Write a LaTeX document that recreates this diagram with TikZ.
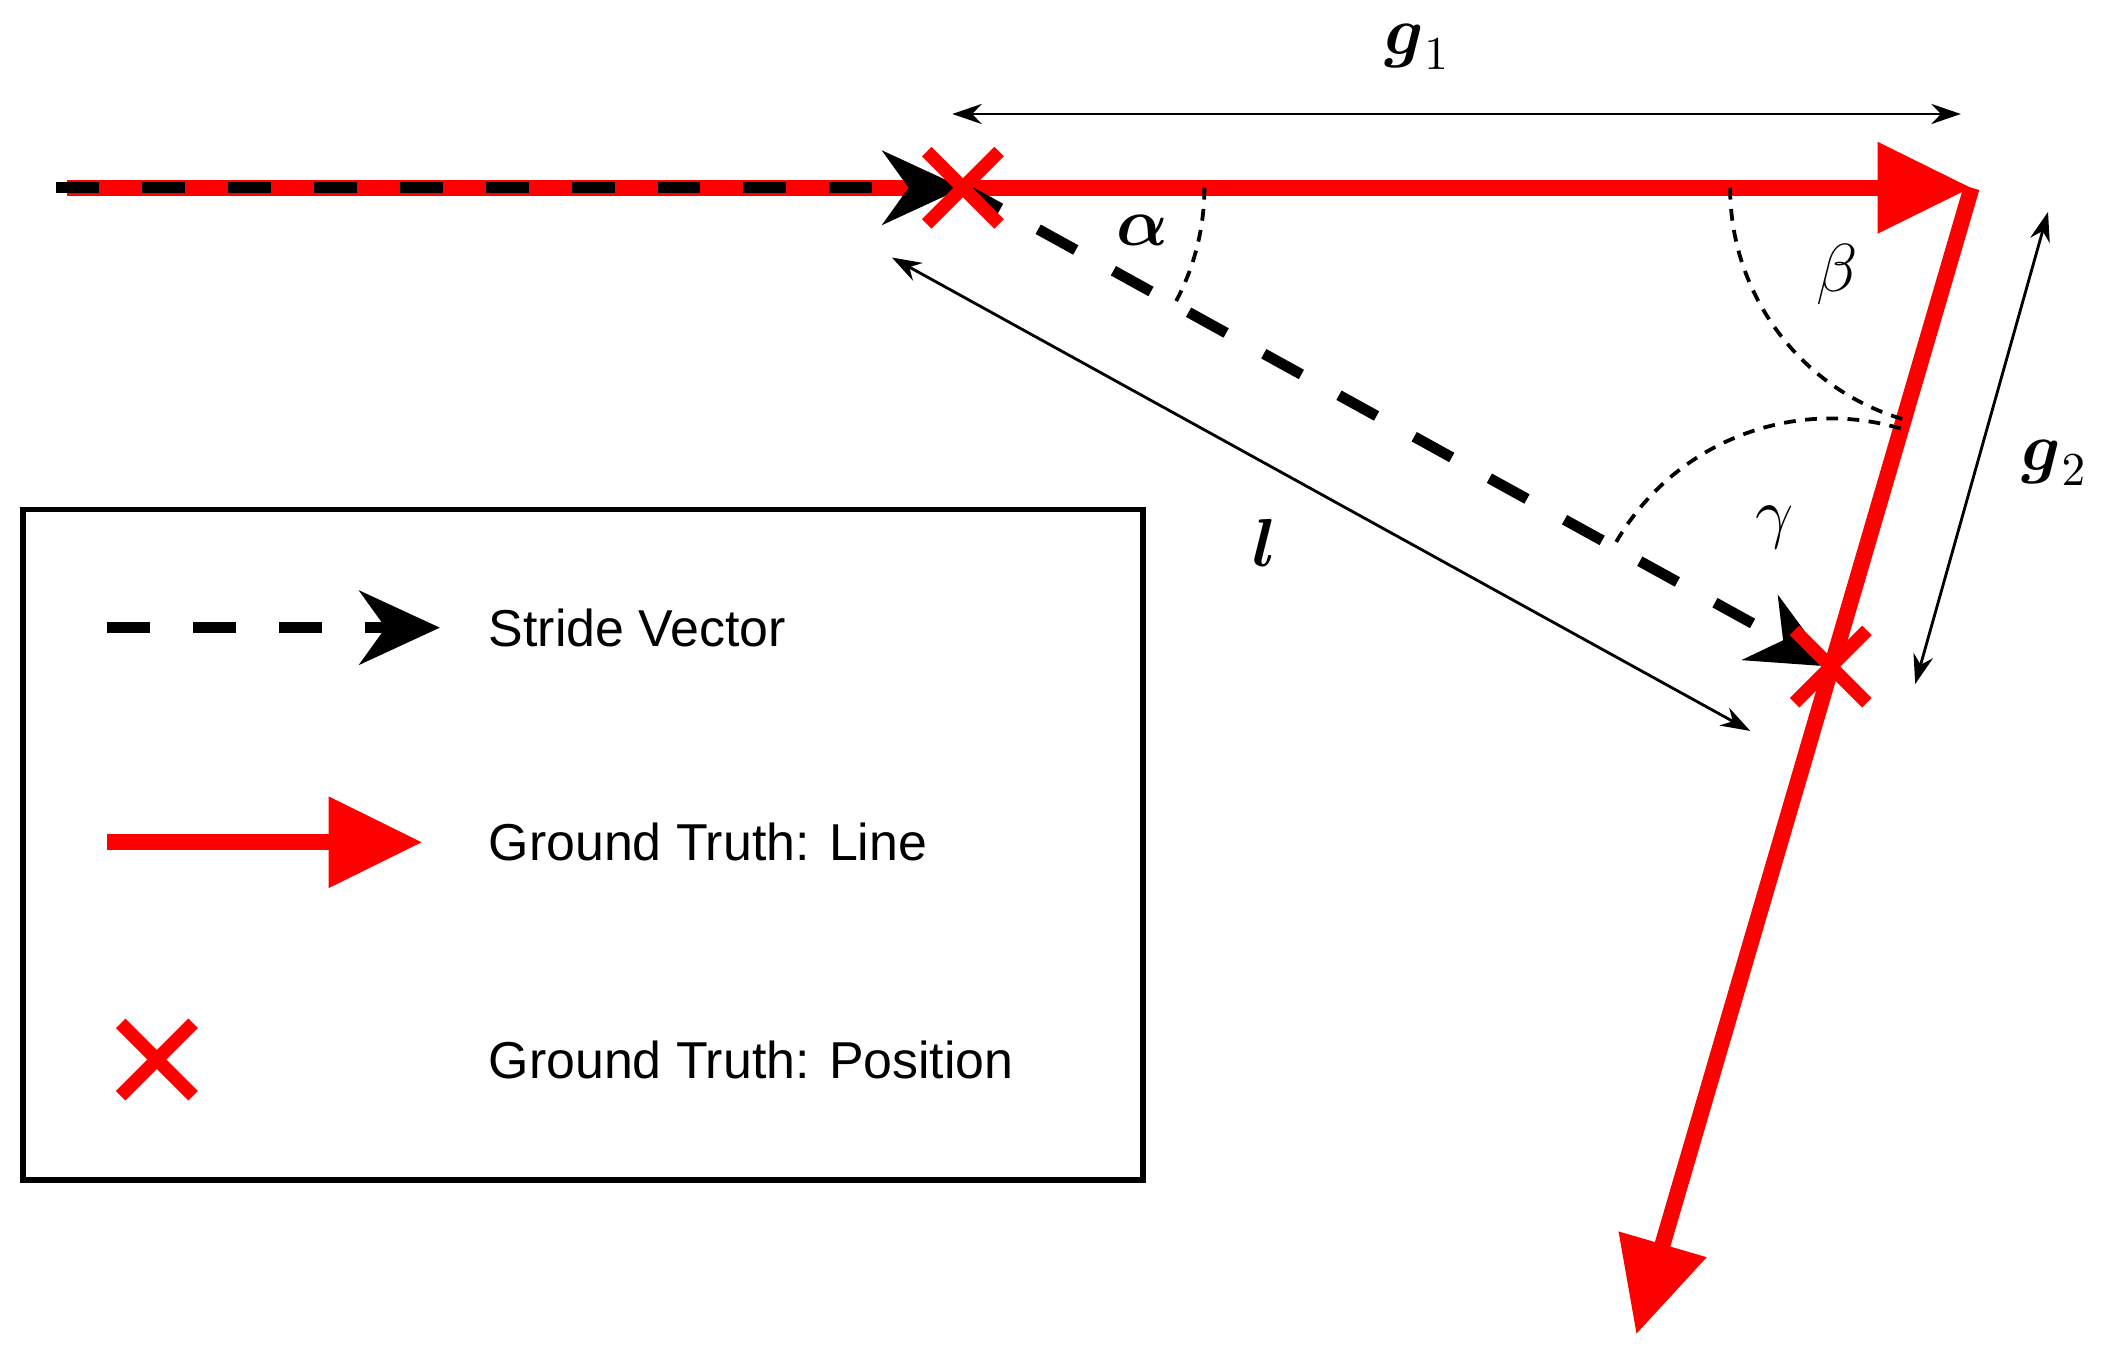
\documentclass[tikz,border=0pt]{standalone}
\usepackage{amsmath}
\usepackage{fontspec}
\setmainfont{Liberation Sans}
\usetikzlibrary{arrows.meta}
\begin{document}
\begin{tikzpicture}[x=0.01cm,y=-0.01cm,
  redl/.style={red,line width=0.12cm,-{Triangle[length=0.7cm,width=0.65cm]}},
  stride/.style={black,line width=0.08cm,dash pattern=on 0.32cm off 0.32cm},
  shead/.style={-{Stealth[length=0.6cm,width=0.55cm]}},
  dim/.style={black,line width=0.6pt,{Stealth[length=0.22cm,width=0.15cm]}-{Stealth[length=0.22cm,width=0.15cm]}},
  arcd/.style={black,line width=0.8pt,dash pattern=on 2.5pt off 2pt},
  lab/.style={font=\fontsize{14}{16}\selectfont},
  leg/.style={anchor=west,font=\fontsize{11}{13}\selectfont},
  cross/.style={red,line width=0.1cm}]
\useasboundingbox (0,0) rectangle (1568,1010);
\coordinate (S) at (42,140);
\coordinate (R0) at (50,140);
\coordinate (A) at (718,140);
\coordinate (B) at (1470,140);
\coordinate (C) at (1365,497);
\coordinate (E) at (1220,995);
% red ground truth
\draw[redl] (R0) -- (B);
\draw[redl] (B) -- (E);
% stride vectors
\draw[stride,shead] (S) -- (A);
\draw[stride,shead] (A) -- (C);
% crosses
\foreach \p in {A,C}{
  \draw[cross] ([shift={(-27,-27)}]\p) -- ([shift={(27,27)}]\p);
  \draw[cross] ([shift={(-27,27)}]\p) -- ([shift={(27,-27)}]\p);
}
% dimensions
\coordinate (g1a) at (710,85); \coordinate (g1b) at (1462,85);
\draw[dim] (g1a) -- (g1b);
\node[lab] (g1) at (1057,35) {$\boldsymbol{g}_1$};
\coordinate (g2a) at (1527,158); \coordinate (g2b) at (1428,510);
\draw[dim] (g2a) -- (g2b);
\node[lab] (g2) at (1532,345) {$\boldsymbol{g}_2$};
\coordinate (la) at (665,192); \coordinate (lb) at (1305,545);
\draw[dim] (la) -- (lb);
\node[lab] (l) at (943,405) {$\boldsymbol{l}$};
% angle arcs (y axis flipped)
\draw[arcd] ([shift={(0:180)}]A) arc[start angle=0,end angle=29,radius=180];
\node[lab] (al) at (852,172) {$\boldsymbol{\alpha}$};
\draw[arcd] ([shift={(180:180)}]B) arc[start angle=180,end angle=106.3,radius=180];
\node[lab] (be) at (1370,205) {$\beta$};
\draw[arcd] ([shift={(-73.6:185)}]C) arc[start angle=-73.6,end angle=-151.1,radius=185];
\node[lab] (ga) at (1323,393) {$\gamma$};
% legend
\coordinate (bx1) at (17,380); \coordinate (bx2) at (852,880);
\draw[line width=1.2pt] (bx1) rectangle (bx2);
\coordinate (l1a) at (80,468); \coordinate (l1b) at (328,468);
\draw[stride,shead] (l1a) -- (l1b);
\node[leg] (t1) at (352,468) {Stride Vector};
\coordinate (l2a) at (80,628); \coordinate (l2b) at (315,628);
\draw[redl] (l2a) -- (l2b);
\node[leg] (t2) at (352,628) {Ground Truth: Line};
\coordinate (X) at (117,790);
\draw[cross] ([shift={(-27,-27)}]X) -- ([shift={(27,27)}]X);
\draw[cross] ([shift={(-27,27)}]X) -- ([shift={(27,-27)}]X);
\node[leg] (t3) at (352,790) {Ground Truth: Position};
\end{tikzpicture}
\end{document}
